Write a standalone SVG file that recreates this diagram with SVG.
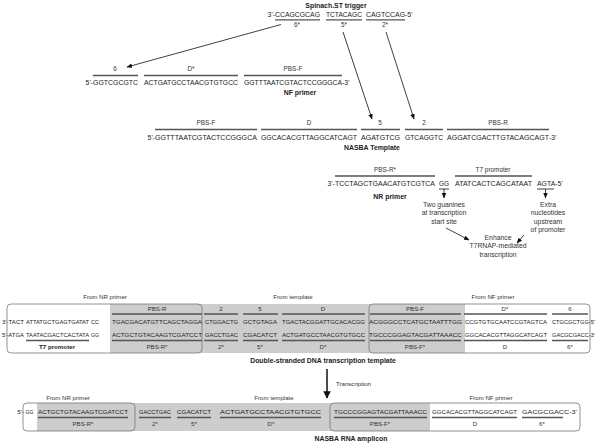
<svg xmlns="http://www.w3.org/2000/svg" width="600" height="446" viewBox="0 0 600 446">
<style>
text{font-family:"Liberation Sans",Arial,sans-serif;fill:#222}
.s{font-size:6.9px}
.d{font-size:6.2px}
.dn{font-size:5.6px}
.l{font-size:6.4px;fill:#333}
.n{font-size:6.8px;fill:#333}
.ld{font-size:6.1px;fill:#333}
.t{font-size:6.9px;font-weight:bold}
.tb{font-size:6.2px;font-weight:bold}
.m{text-anchor:middle}
.e{text-anchor:end}
.ol{stroke:#555;stroke-width:1.6;fill:none}
.ul{stroke:#555;stroke-width:1.3;fill:none}
.c{stroke:#111;stroke-width:0.8;fill:none}
.ct{stroke:#111;stroke-width:1.5;fill:none}
.box{fill:none;stroke:#777;stroke-width:0.8}
.g{fill:#cdcdcd}
.w{fill:#fff}
</style>
<defs>
<marker id="ah" viewBox="0 0 10 10" refX="9" refY="5" markerWidth="7" markerHeight="7" orient="auto"><path d="M0,1 L10,5 L0,9 z" fill="#111"/></marker>
<marker id="ah2" viewBox="0 0 10 10" refX="9" refY="5" markerWidth="5" markerHeight="5" orient="auto"><path d="M0,0 L10,5 L0,10 z" fill="#111"/></marker>
</defs>
<rect width="600" height="446" fill="#fff"/>

<g id="trigger">
<text class="t m" x="336" y="8">Spinach.ST trigger</text>
<text class="s e" x="275" y="17">3'-</text>
<text class="s" x="275" y="17" textLength="45" lengthAdjust="spacingAndGlyphs">CCAGCGCAG</text>
<text class="s" x="326" y="17" textLength="36" lengthAdjust="spacingAndGlyphs">TCTACAGC</text>
<text class="s" x="366" y="17" textLength="39" lengthAdjust="spacingAndGlyphs">CAGTCCAG</text>
<text class="s" x="405" y="17">-5'</text>
<path class="ul" d="M275,19.8H320M326,19.8H362M366,19.8H405"/>
<text class="l m" x="297" y="27">6*</text>
<text class="l m" x="344" y="27">5*</text>
<text class="l m" x="385" y="27">2*</text>
</g>

<g id="nf-primer">
<text class="l m" x="115" y="71">6</text>
<text class="l m" x="191" y="71">D*</text>
<text class="l m" x="293" y="71">PBS-F</text>
<path class="ol" d="M93,75.5H138M144,75.5H238M244,75.5H342"/>
<text class="s e" x="93" y="85">5'-</text>
<text class="s" x="93" y="85" textLength="45" lengthAdjust="spacingAndGlyphs">GGTCGCGTC</text>
<text class="s" x="144" y="85" textLength="94" lengthAdjust="spacingAndGlyphs">ACTGATGCCTAACGTGTGCC</text>
<text class="s" x="244" y="85" textLength="98" lengthAdjust="spacingAndGlyphs">GGTTTAATCGTACTCCGGGCA</text>
<text class="s" x="342" y="85">-3'</text>
<text class="t m" x="300" y="95">NF primer</text>
</g>

<g id="nasba-template">
<text class="l m" x="206" y="125">PBS-F</text>
<text class="l m" x="309" y="125">D</text>
<text class="l m" x="380" y="125">5</text>
<text class="l m" x="424" y="125">2</text>
<text class="l m" x="498" y="125">PBS-R</text>
<path class="ol" d="M155,129.5H257M261,129.5H357M361,129.5H400M405,129.5H443M447,129.5H549"/>
<text class="s e" x="155" y="140">5'-</text>
<text class="s" x="155" y="140" textLength="102" lengthAdjust="spacingAndGlyphs">GGTTTAATCGTACTCCGGGCA</text>
<text class="s" x="261" y="140" textLength="96" lengthAdjust="spacingAndGlyphs">GGCACACGTTAGGCATCAGT</text>
<text class="s" x="361" y="140" textLength="39" lengthAdjust="spacingAndGlyphs">AGATGTCG</text>
<text class="s" x="405" y="140" textLength="38" lengthAdjust="spacingAndGlyphs">GTCAGGTC</text>
<text class="s" x="447" y="140" textLength="102" lengthAdjust="spacingAndGlyphs">AGGATCGACTTGTACAGCAGT</text>
<text class="s" x="549" y="140">-3'</text>
<text class="t m" x="372" y="150">NASBA Template</text>
</g>

<g id="nr-primer">
<text class="l m" x="385" y="172">PBS-R*</text>
<text class="l m" x="493" y="172">T7 promoter</text>
<path class="ol" d="M335,176H435M455,176H532"/>
<text class="s e" x="335" y="186">3'-</text>
<text class="s" x="335" y="186" textLength="100" lengthAdjust="spacingAndGlyphs">TCCTAGCTGAACATGTCGTCA</text>
<text class="s" x="439" y="186" textLength="10" lengthAdjust="spacingAndGlyphs">GG</text>
<text class="s" x="455" y="186" textLength="77" lengthAdjust="spacingAndGlyphs">ATATCACTCAGCATAAT</text>
<text class="s" x="537" y="186">AGTA-5'</text>
<text class="t m" x="390" y="199">NR primer</text>
</g>

<g id="note-guanines">
<text class="n m" x="444" y="206.5">Two guanines</text>
<text class="n m" x="444" y="215">at transcription</text>
<text class="n m" x="444" y="223.5">start site</text>
</g>
<g id="note-extra">
<text class="n m" x="548" y="206.5">Extra</text>
<text class="n m" x="548" y="215">nucleotides</text>
<text class="n m" x="548" y="223.5">upstream</text>
<text class="n m" x="548" y="232">of promoter</text>
</g>
<g id="note-enhance">
<text class="n m" x="498" y="239.5">Enhance</text>
<text class="n m" x="498" y="248">T7RNAP-mediated</text>
<text class="n m" x="498" y="256.5">transcription</text>
</g>

<g id="dsdna">
<text class="ld m" x="105" y="299">From NR primer</text>
<text class="ld m" x="293" y="299">From template</text>
<text class="ld m" x="493" y="299">From NF primer</text>
<rect class="w" x="7" y="304" width="195" height="49" rx="4"/>
<rect class="w" x="369" y="304" width="221" height="49" rx="4"/>
<rect class="g" x="110" y="304" width="355" height="49"/>
<rect class="box" x="7" y="304" width="195" height="49" rx="4"/>
<rect class="box" x="369" y="304" width="221" height="49" rx="4"/>
<text class="ld m" x="157" y="310.5">PBS-R</text>
<text class="ld m" x="221" y="310.5">2</text>
<text class="ld m" x="260" y="310.5">5</text>
<text class="ld m" x="323" y="310.5">D</text>
<text class="ld m" x="415" y="310.5">PBS-F</text>
<text class="ld m" x="505" y="310.5">D*</text>
<text class="ld m" x="570" y="310.5">6</text>
<path class="ol" d="M112,314H202M204,314H238M243,314H278M282,314H365M370,314H461M464,314H547M552,314H588"/>
<text class="d" x="2" y="323.5" textLength="22" lengthAdjust="spacingAndGlyphs">3'-TACT</text>
<text class="dn" x="26" y="323.5" textLength="63" lengthAdjust="spacingAndGlyphs">ATTATGCTGAGTGATAT</text>
<text class="d" x="91" y="323.5" textLength="8" lengthAdjust="spacingAndGlyphs">CC</text>
<text class="d" x="112" y="323.5" textLength="90" lengthAdjust="spacingAndGlyphs">TGACGACATGTTCAGCTAGGA</text>
<text class="d" x="205" y="323.5" textLength="33" lengthAdjust="spacingAndGlyphs">CTGGACTG</text>
<text class="d" x="243" y="323.5" textLength="34" lengthAdjust="spacingAndGlyphs">GCTGTAGA</text>
<text class="d" x="282" y="323.5" textLength="83" lengthAdjust="spacingAndGlyphs">TGACTACGGATTGCACACGG</text>
<text class="d" x="369" y="323.5" textLength="93" lengthAdjust="spacingAndGlyphs">ACGGGCCTCATGCTAATTTGG</text>
<text class="d" x="465" y="323.5" textLength="82" lengthAdjust="spacingAndGlyphs">CCGTGTGCAATCCGTAGTCA</text>
<text class="d" x="552" y="323.5" textLength="43" lengthAdjust="spacingAndGlyphs">CTGCGCTGG-5'</text>
<text class="d" x="2" y="336.5" textLength="22" lengthAdjust="spacingAndGlyphs">5'-ATGA</text>
<text class="dn" x="26" y="336.5" textLength="63" lengthAdjust="spacingAndGlyphs">TAATACGACTCACTATA</text>
<text class="d" x="91" y="336.5" textLength="8" lengthAdjust="spacingAndGlyphs">GG</text>
<text class="d" x="112" y="336.5" textLength="90" lengthAdjust="spacingAndGlyphs">ACTGCTGTACAAGTCGATCCT</text>
<text class="d" x="205" y="336.5" textLength="33" lengthAdjust="spacingAndGlyphs">GACCTGAC</text>
<text class="d" x="243" y="336.5" textLength="34" lengthAdjust="spacingAndGlyphs">CGACATCT</text>
<text class="d" x="282" y="336.5" textLength="83" lengthAdjust="spacingAndGlyphs">ACTGATGCCTAACGTGTGCC</text>
<text class="d" x="369" y="336.5" textLength="93" lengthAdjust="spacingAndGlyphs">TGCCCGGAGTACGATTAAACC</text>
<text class="d" x="465" y="336.5" textLength="82" lengthAdjust="spacingAndGlyphs">GGCACACGTTAGGCATCAGT</text>
<text class="d" x="552" y="336.5" textLength="43" lengthAdjust="spacingAndGlyphs">GACGCGACC-3'</text>
<path class="ol" d="M26,340.5H89M112,340.5H202M204,340.5H238M243,340.5H278M282,340.5H365M370,340.5H461M464,340.5H547M552,340.5H588"/>
<text class="tb m" x="57" y="349">T7 promoter</text>
<text class="ld m" x="157" y="349">PBS-R*</text>
<text class="ld m" x="221" y="349">2*</text>
<text class="ld m" x="260" y="349">5*</text>
<text class="ld m" x="323" y="349">D*</text>
<text class="ld m" x="415" y="349">PBS-F*</text>
<text class="ld m" x="505" y="349">D</text>
<text class="ld m" x="570" y="349">6*</text>
<text class="t m" x="323" y="363">Double-stranded DNA transcription template</text>
</g>

<g id="transcription-label">
<text class="ld" x="336" y="386">Transcription</text>
</g>

<g id="rna">
<text class="ld m" x="68" y="400">From NR primer</text>
<text class="ld m" x="274" y="400">From template</text>
<text class="ld m" x="491" y="400">From NF primer</text>
<rect class="w" x="23" y="403" width="112" height="28" rx="4"/>
<rect class="w" x="330" y="403" width="250" height="28" rx="4"/>
<rect class="g" x="37" y="403" width="393" height="28"/>
<rect class="box" x="23" y="403" width="112" height="28" rx="4"/>
<rect class="box" x="330" y="403" width="250" height="28" rx="4"/>
<text class="d e" x="24" y="414">5'-</text>
<text class="d" x="25.5" y="414" textLength="8" lengthAdjust="spacingAndGlyphs">GG</text>
<text class="d" x="38" y="414" textLength="90" lengthAdjust="spacingAndGlyphs">ACTGCTGTACAAGTCGATCCT</text>
<text class="d" x="139" y="414" textLength="32" lengthAdjust="spacingAndGlyphs">GACCTGAC</text>
<text class="d" x="177" y="414" textLength="34" lengthAdjust="spacingAndGlyphs">CGACATCT</text>
<text class="d" x="220" y="414" textLength="101" lengthAdjust="spacingAndGlyphs">ACTGATGCCTAACGTGTGCC</text>
<text class="d" x="334" y="414" textLength="93" lengthAdjust="spacingAndGlyphs">TGCCCGGAGTACGATTAAACC</text>
<text class="d" x="432" y="414" textLength="85" lengthAdjust="spacingAndGlyphs">GGCACACGTTAGGCATCAGT</text>
<text class="d" x="522" y="414" textLength="55" lengthAdjust="spacingAndGlyphs">GACGCGACC-3'</text>
<path class="ol" d="M38,417.5H128M139,417.5H171M177,417.5H211M220,417.5H321M334,417.5H427M432,417.5H517M522,417.5H563"/>
<text class="ld m" x="83" y="426">PBS-R*</text>
<text class="ld m" x="155" y="426">2*</text>
<text class="ld m" x="194" y="426">5*</text>
<text class="ld m" x="271" y="426">D*</text>
<text class="ld m" x="380" y="426">PBS-F*</text>
<text class="ld m" x="475" y="426">D</text>
<text class="ld m" x="542" y="426">6*</text>
<text class="t m" x="351" y="441">NASBA RNA amplicon</text>
</g>

<g id="connectors">
<line class="c" x1="281" y1="24.5" x2="127" y2="67" marker-end="url(#ah)"/>
<line class="c" x1="343" y1="32" x2="372" y2="119" marker-end="url(#ah)"/>
<line class="c" x1="386" y1="32" x2="414" y2="119" marker-end="url(#ah)"/>
<path class="c" d="M439,189H449"/>
<line class="c" x1="444" y1="189" x2="444" y2="198" marker-end="url(#ah)"/>
<path class="c" d="M537,189H554"/>
<line class="c" x1="545.5" y1="189" x2="545.5" y2="198" marker-end="url(#ah)"/>
<line class="c" x1="446" y1="228" x2="469" y2="240" marker-end="url(#ah)"/>
<line class="c" x1="524" y1="235" x2="517" y2="243" marker-end="url(#ah)"/>
<line class="ct" x1="327" y1="369" x2="327" y2="398" marker-end="url(#ah2)"/>
</g>
</svg>
